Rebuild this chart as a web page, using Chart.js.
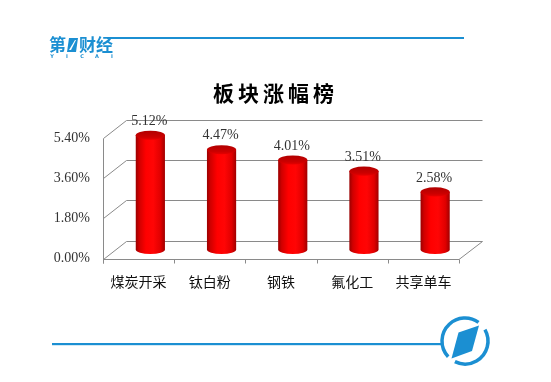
<!DOCTYPE html>
<html><head><meta charset="utf-8">
<script src="https://cdn.jsdelivr.net/npm/chart.js@4"></script>
<style>html,body{margin:0;padding:0;background:#fff;overflow:hidden}</style>
</head><body>
<canvas id="c" width="551" height="382"></canvas>
<script>
const categories = ['煤炭开采', '钛白粉', '钢铁', '氟化工', '共享单车'];
const values = [5.12, 4.47, 4.01, 3.51, 2.58];
const yTicks = [0, 1.8, 3.6, 5.4];
const titleText = '板块涨幅榜';
const brandText = ['第', '财经'];
const brandSub = ['Y', 'I', 'C', 'A', 'I'];

const BLUE = '#1b8fd2';
const DX = 23.5, DY = -18;

const deco = {
  id: 'deco',
  beforeDraw(chart) {
    const ctx = chart.ctx;
    ctx.save();
    // top line
    ctx.fillStyle = BLUE;
    ctx.fillRect(107, 37, 357, 2);
    // logo
    ctx.font = 'bold 17px "Noto Sans CJK SC"';
    ctx.textBaseline = 'middle';
    ctx.textAlign = 'left';
    ctx.fillText(brandText[0], 49, 45);
    ctx.beginPath();
    ctx.moveTo(69, 38); ctx.lineTo(78, 38); ctx.lineTo(76, 52); ctx.lineTo(67, 52); ctx.closePath();
    ctx.fill();
    ctx.fillStyle = '#fff';
    ctx.beginPath();
    ctx.moveTo(75, 40); ctx.lineTo(76, 40); ctx.lineTo(71, 50); ctx.lineTo(69, 50); ctx.closePath();
    ctx.fill();
    ctx.fillStyle = BLUE;
    ctx.fillText(brandText[1], 79, 45);
    ctx.font = 'bold 5px "DejaVu Sans"';
    ctx.textAlign = 'center';
    brandSub.forEach((c, i) => ctx.fillText(c, 52 + i * 15, 57));
    // bottom line
    ctx.fillRect(52, 343, 390, 2.2);
    // circle logo
    const cx = 465, cy = 341, r = 23;
    ctx.strokeStyle = BLUE; ctx.lineWidth = 3.5;
    const d = Math.PI / 180;
    ctx.beginPath(); ctx.arc(cx, cy, r, -30 * d, 116 * d); ctx.stroke();
    ctx.beginPath(); ctx.arc(cx, cy, r, 137 * d, 306 * d); ctx.stroke();
    ctx.beginPath();
    ctx.moveTo(458.5, 332.5); ctx.lineTo(479, 325.5); ctx.lineTo(472, 351); ctx.lineTo(451.5, 358.5); ctx.closePath();
    ctx.fill();
    // title
    ctx.fillStyle = '#000';
    ctx.font = 'bold 21px "Noto Sans CJK SC"';
    ctx.textAlign = 'left';
    ctx.letterSpacing = '4px';
    ctx.fillText(titleText, 213, 93);
    ctx.letterSpacing = '0px';
    // 3D walls
    const xs = chart.scales.x, ys = chart.scales.y;
    const L = chart.chartArea.left, R = chart.chartArea.right, B = ys.getPixelForValue(0);
    ctx.strokeStyle = '#8a8a8a'; ctx.lineWidth = 1;
    ctx.beginPath();
    yTicks.forEach(v => {
      const y = Math.round(ys.getPixelForValue(v)) + 0.5;
      ctx.moveTo(L + 0.5, y); ctx.lineTo(L + DX, y + DY); ctx.lineTo(R + DX, y + DY);
    });
    const yTop = Math.round(ys.getPixelForValue(yTicks[yTicks.length - 1])) + 0.5;
    const yb = Math.round(B) + 0.5;
    ctx.moveTo(L + 0.5, yTop); ctx.lineTo(L + 0.5, yb + 4);
    ctx.moveTo(L + 0.5, yb); ctx.lineTo(R, yb); ctx.lineTo(R + DX, yb + DY);
    const n = categories.length;
    for (let i = 0; i <= n; i++) {
      const x = Math.round(L + i * (R - L) / n) + 0.5;
      ctx.moveTo(x, yb); ctx.lineTo(x, yb + 4);
    }
    ctx.stroke();
    ctx.restore();
  },
  afterDatasetsDraw(chart) {
    const ctx = chart.ctx;
    const meta = chart.getDatasetMeta(0);
    ctx.save();
    meta.data.forEach((el, i) => {
      const rx = el.width / 2, ry = 4.6;
      const cx = el.x + DX / 2, top = el.y + DY / 2, base = el.base + DY / 2;
      const g = ctx.createLinearGradient(cx - rx, 0, cx + rx, 0);
      g.addColorStop(0, '#9a0000');
      g.addColorStop(0.12, '#d00000');
      g.addColorStop(0.35, '#ff0000');
      g.addColorStop(0.6, '#ff0505');
      g.addColorStop(0.85, '#e00000');
      g.addColorStop(1, '#a00000');
      ctx.fillStyle = g;
      ctx.beginPath();
      ctx.moveTo(cx - rx, top);
      ctx.lineTo(cx - rx, base);
      ctx.ellipse(cx, base, rx, ry, 0, Math.PI, 0, true);
      ctx.lineTo(cx + rx, top);
      ctx.closePath();
      ctx.fill();
      const g2 = ctx.createLinearGradient(0, top - ry, 0, top + ry);
      g2.addColorStop(0, '#b00000');
      g2.addColorStop(0.7, '#cc0000');
      g2.addColorStop(1, '#e80000');
      ctx.fillStyle = g2;
      ctx.beginPath();
      ctx.ellipse(cx, top, rx, ry, 0, 0, Math.PI * 2);
      ctx.fill();
      ctx.fillStyle = '#333';
      ctx.font = '14px "Liberation Serif"';
      ctx.textAlign = 'center';
      ctx.textBaseline = 'middle';
      ctx.fillText(values[i].toFixed(2) + '%', cx - 1, top - 14);
    });
    ctx.restore();
  }
};

new Chart(document.getElementById('c'), {
  type: 'bar',
  data: {
    labels: categories,
    datasets: [{
      data: values,
      backgroundColor: 'rgba(0,0,0,0)',
      borderWidth: 0,
      categoryPercentage: 1,
      barPercentage: 0.41
    }]
  },
  options: {
    responsive: false,
    animation: false,
    events: [],
    layout: { padding: { top: 138, right: 92, bottom: 0, left: 0 } },
    plugins: { legend: { display: false }, tooltip: { enabled: false }, title: { display: false } },
    scales: {
      y: {
        min: 0, max: 5.4,
        afterBuildTicks: s => { s.ticks = yTicks.map(v => ({ value: v })); },
        afterFit: s => { s.width = 103; },
        grid: { display: false, drawTicks: false },
        border: { display: false },
        ticks: {
          padding: 13,
          color: '#333',
          font: { family: 'Liberation Serif', size: 14 },
          callback: v => Number(v).toFixed(2) + '%'
        }
      },
      x: {
        afterFit: s => { s.height = 382 - 258.5; },
        grid: { display: false, drawTicks: false },
        border: { display: false },
        ticks: {
          padding: 15,
          color: '#111',
          font: { family: 'Noto Sans CJK SC', size: 14 }
        }
      }
    }
  },
  plugins: [deco]
});
</script>
</body></html>
